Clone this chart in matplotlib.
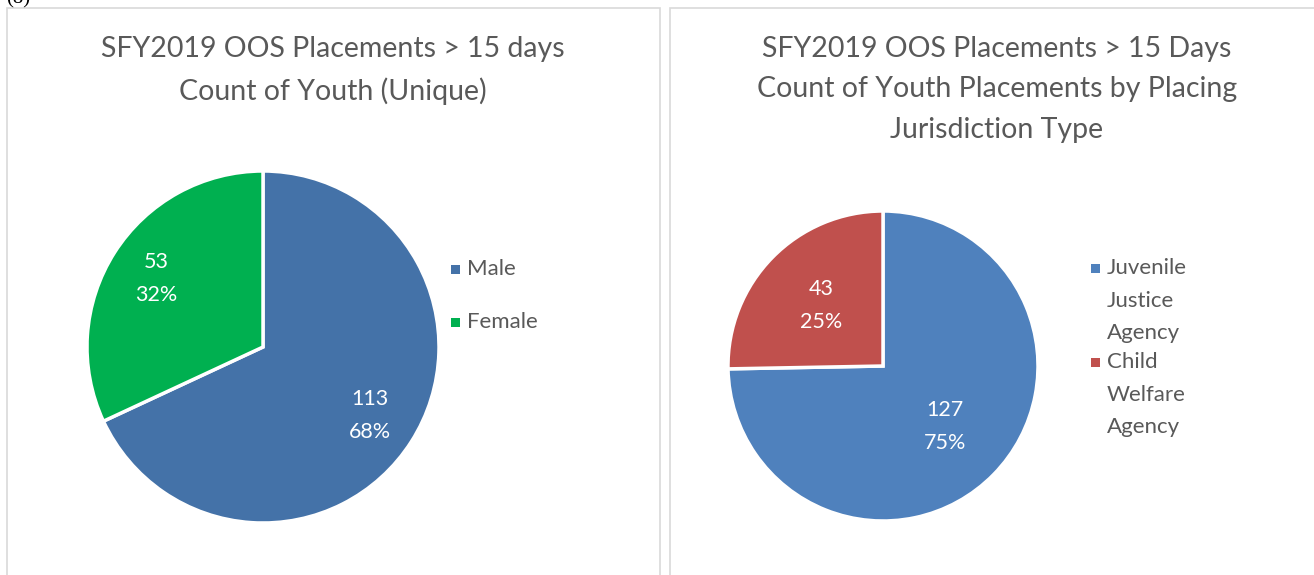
import matplotlib
matplotlib.use("Agg")
import matplotlib.pyplot as plt
from matplotlib.patches import Rectangle

W, H = 1314, 575
plt.rcParams['font.family'] = ['Lato', 'DejaVu Sans']

# Data
left_title = "SFY2019 OOS Placements > 15 days\nCount of Youth (Unique)"
left_labels = ["Male", "Female"]
left_values = [113, 53]
left_colors = ["#4472A8", "#00B050"]

right_title = "SFY2019 OOS Placements > 15 Days\nCount of Youth Placements by Placing\nJurisdiction Type"
right_labels = ["Juvenile\nJustice\nAgency", "Child\nWelfare\nAgency"]
right_values = [127, 43]
right_colors = ["#4F81BD", "#C0504D"]

fig = plt.figure(figsize=(W / 100, H / 100), dpi=100)

def fx(x): return x / W
def fy(y): return 1 - y / H

# panel borders
for x0, x1 in [(7, 660), (670, 1320)]:
    fig.patches.append(Rectangle((fx(x0), fy(590)), fx(x1 - x0), (590 - 8) / H,
                                 transform=fig.transFigure, fill=False,
                                 edgecolor="#D9D9D9", linewidth=1.2))

fig.text(fx(6), fy(3), "(8)", family="Liberation Serif", fontsize=15,
         ha="left", va="baseline", color="black")

def draw_pie(cx, cy, r, values, colors, pctdist):
    ax = fig.add_axes([fx(cx - r), fy(cy + r), r * 2 / W, r * 2 / H])
    total = sum(values)
    def fmt(p):
        v = int(round(p * total / 100.0))
        return f"{v}\n{p:.0f}%"
    wedges, texts, autotexts = ax.pie(values, colors=colors, startangle=90,
                                      counterclock=False, autopct=fmt,
                                      pctdistance=pctdist,
                                      wedgeprops=dict(edgecolor="white", linewidth=2.5),
                                      textprops=dict(color="white", fontsize=15.5,
                                                     linespacing=1.8))
    ax.set_xlim(-1, 1)
    ax.set_ylim(-1, 1)
    ax.set_aspect("equal")
    ax.axis("off")
    for w in wedges:
        w.set_clip_on(False)
    return ax

draw_pie(263, 347, 176, left_values, left_colors, 0.72)
draw_pie(883, 366, 155, right_values, right_colors, 0.56)

for cx, title in [(333, left_title), (997, right_title)]:
    fig.text(fx(cx), fy(36), title, ha="center", va="top", fontsize=20.5,
             color="#595959", linespacing=1.68)

def legend(x, y0, labels, colors, step, line_step):
    y = y0
    for lab, c in zip(labels, colors):
        fig.patches.append(Rectangle((fx(x), fy(y) - 4.5 / H), 9 / W, 9 / H,
                                     transform=fig.transFigure, facecolor=c,
                                     edgecolor="none"))
        fig.text(fx(x + 16), fy(y - 10), lab, ha="left", va="top", fontsize=16,
                 color="#595959", linespacing=1.79)
        y += step + line_step * lab.count("\n")

legend(451, 269, left_labels, left_colors, 53, 0)
legend(1091, 268, right_labels, right_colors, 29, 32.5)

fig.savefig("out.png", dpi=100)
